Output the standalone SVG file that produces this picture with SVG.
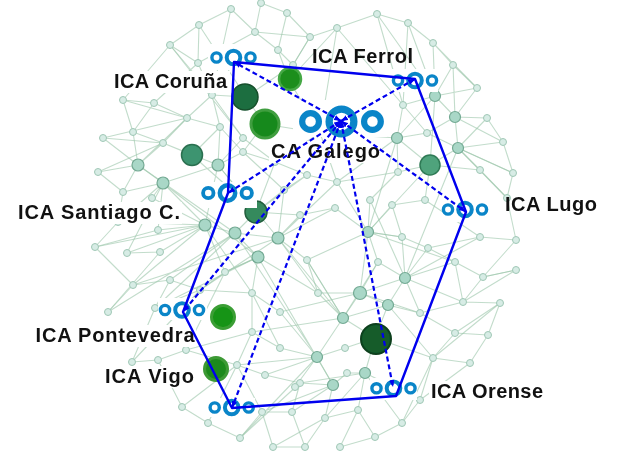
<svg xmlns="http://www.w3.org/2000/svg" xmlns:xlink="http://www.w3.org/1999/xlink" width="617" height="462" viewBox="0 0 617 462">
<style>
.e{stroke:#9cc6ab;stroke-width:1.1;opacity:.62;fill:none}
.s{fill:#d7ece5;stroke:#9fc7b5;stroke-width:1}
.m{fill:#a9d7c7;stroke:#74aa94;stroke-width:1.2}
.ring{fill:none;stroke:#0a85c8}
.bg{fill:#ffffff}
.lbl{font-family:"Liberation Sans",Arial,sans-serif;font-size:20px;font-weight:bold;fill:#111}
.solid{stroke:#0000ee;stroke-width:2.4;fill:none;stroke-linejoin:round}
.dash{stroke:#0000ee;stroke-width:2.2;stroke-dasharray:5 3;fill:none}
</style>
<defs>
<g id="nc">
<circle class="ring" cx="-17" cy="0" r="4.6" stroke-width="3.4"/>
<circle class="ring" cx="0" cy="0" r="6.8" stroke-width="4"/>
<circle class="ring" cx="17" cy="0" r="4.6" stroke-width="3.4"/>
</g>
<marker id="ah" viewBox="0 0 8 6" refX="8" refY="3" markerWidth="7" markerHeight="6" markerUnits="userSpaceOnUse" orient="auto-start-reverse">
<path d="M0 0L8 3L0 6z" fill="#0000ee"/>
</marker>
<filter id="soft" x="-5%" y="-5%" width="110%" height="110%"><feGaussianBlur stdDeviation="0.35"/></filter>
</defs>
<rect width="617" height="462" fill="#fff"/>
<g id="network" filter="url(#soft)">
<path class="e" d="M231 9L199 25M231 9L255 32M261 3L255 32M261 3L287 13M287 13L310 37M287 13L278 50M199 25L170 45M199 25L198 63M255 32L278 50M310 37L337 28M310 37L293 65M337 28L377 14M278 50L293 65M170 45L198 63M170 45L123 100M198 63L212 95M198 63L154 103M212 95L187 118M212 95L243 138M187 118L138 165M187 118L220 127M220 127L218 165M220 127L192 155M123 100L133 132M133 132L138 165M103 138L138 165M163 143L138 165M163 143L192 155M163 143L218 165M243 152L218 165M243 138L218 165M98 172L138 165M123 192L138 165M152 198L163 183M163 183L138 165M163 183L218 165M163 183L205 225M123 192L163 183M118 222L163 183M118 222L205 225M158 230L205 225M95 247L158 230M127 253L205 225M205 225L235 233M235 233L278 238M235 233L258 257M205 225L218 165M218 165L256 212M256 212L235 233M275 162L256 212M275 162L243 152M307 175L256 212M337 182L278 238M335 208L278 238M320 133L275 162M154 103L187 118M154 103L123 100M170 45L212 95M192 155L256 212M246 97L212 95M246 97L293 65M246 97L264 124M264 124L320 133M264 124L243 152M289 80L278 50M289 80L320 133M289 80L337 28M300 215L278 238M300 215L256 212M284 190L256 212M284 190L307 175M300 215L335 208"/>
<path class="e" d="M377 14L408 23M408 23L433 43M433 43L453 65M453 65L435 96M477 88L455 117M477 88L435 96M435 96L403 105M435 96L455 117M435 96L397 138M403 105L397 138M455 117L487 118M455 117L458 148M455 117L427 133M427 133L397 138M397 138L398 172M397 138L430 165M458 148L503 142M458 148L480 170M458 148L513 173M458 148L430 165M430 165L425 200M430 165L398 172M398 172L370 200M398 172L337 182M425 200L392 205M392 205L368 232M370 200L368 232M480 170L507 198M507 198L516 240M408 23L435 96M337 28L403 105M377 14L435 96M487 118L503 142M433 43L477 88M453 65L455 117M397 138L320 133M397 138L337 182M425 200L480 237M516 240L480 237"/>
<path class="e" d="M368 232L378 262M368 232L307 260M368 232L402 237M378 262L405 278M402 237L428 248M428 248L405 278M455 262L405 278M405 278L388 305M405 278L360 293M483 277L463 302M463 302L420 313M500 303L488 335M488 335L455 333M455 333L433 358M470 363L433 358M420 313L388 305M388 305L375 338M360 293L343 318M343 318L317 357M343 318L375 338M318 293L343 318M307 260L318 293M278 238L307 260M258 257L252 293M258 257L225 272M252 293L280 312M280 312L317 357M280 348L317 357M252 332L280 348M237 365L265 375M265 375L300 383M300 383L333 385M333 385L317 357M333 385L347 373M347 373L365 373M365 373L375 338M365 373L358 410M358 410L325 418M325 418L333 385M402 423L375 437M375 437L358 410M340 447L358 410M305 447L325 418M292 412L333 385M262 412L292 412M273 447L262 412M240 438L262 412M420 400L402 423M420 400L433 358M433 358L375 338M295 387L317 357M345 348L375 338M345 348L317 357M455 262L483 277M500 303L463 302M516 270L483 277M378 262L360 293M360 293L388 305M343 318L388 305M420 313L455 333M488 335L470 363M365 373L402 423M365 373L420 400M278 238L318 293M258 257L318 293M360 293L368 232M343 318L307 260"/>
<path class="e" d="M127 253L160 252M160 252L205 225M133 285L170 280M170 280L200 290M200 290L225 272M200 290L252 293M108 312L133 285M155 308L170 280M132 362L158 360M158 360L186 350M186 350L237 365M182 407L208 423M208 423L240 438M182 407L158 360M133 285L95 247M225 272L258 257M225 272L205 225M170 280L235 233M252 332L252 293M237 365L252 332M186 350L252 332M208 423L237 365M155 308L200 290M132 362L155 308M138 165L235 233M163 183L258 257M218 165L278 238M205 225L252 293M235 233L317 357M278 238L343 318M258 257L333 385M397 138L368 232M458 148L405 278M430 165L368 232M435 96L430 165"/>
<path class="e" d="M170 45L243 138M199 25L246 97M231 9L212 95M123 100L187 118M103 138L163 143M98 172L123 192M95 247L118 222M127 253L163 183M133 285L205 225M108 312L160 252M155 308L258 257M132 362L200 290M186 350L225 272M182 407L237 365M240 438L300 383M273 447L305 447M305 447L292 412M340 447L375 437M262 412L237 365M292 412L300 383M265 375L317 357M280 348L252 293M318 293L360 293M307 260L343 318M378 262L343 318M402 237L405 278M428 248L455 262M455 262L463 302M483 277L516 270M516 240L483 277M500 303L455 333M470 363L420 400M433 358L402 423M420 313L405 278M388 305L433 358M370 200L405 278M392 205L402 237M337 182L368 232M335 208L368 232M307 175L337 182M320 133L337 182M275 162L307 175M284 190L278 238M243 152L284 190M243 138L275 162M220 127L243 152M187 118L163 143M133 132L163 143M152 198L205 225M123 192L118 222M158 230L163 183M408 23L403 105M453 65L477 88M487 118L458 148M503 142L513 173M513 173L507 198M480 170L430 165M427 133L458 148M403 105L427 133M310 37L255 32M293 65L310 37M198 63L255 32M154 103L133 132M212 95L220 127"/>
<path class="e" d="M108 312L235 233M133 285L278 238M155 308L235 233M200 290L278 238M252 332L343 318M280 312L360 293M300 383L365 373M237 365L317 357M262 412L333 385M325 418L365 373M273 447L325 418M240 438L317 357M420 313L360 293M455 262L368 232M480 237L405 278M463 302L405 278M500 303L433 358M516 270L463 302M95 247L205 225M103 138L187 118M98 172L163 143M337 28L320 133M377 14L403 105M433 43L435 96M503 142L455 117M513 173L458 148M507 198L458 148M480 237L428 248M402 237L368 232"/>
<g>
<circle class="s" cx="231" cy="9" r="3.5"/><circle class="s" cx="261" cy="3" r="3.5"/><circle class="s" cx="287" cy="13" r="3.5"/><circle class="s" cx="199" cy="25" r="3.5"/><circle class="s" cx="255" cy="32" r="3.5"/><circle class="s" cx="310" cy="37" r="3.5"/><circle class="s" cx="337" cy="28" r="3.5"/><circle class="s" cx="377" cy="14" r="3.5"/><circle class="s" cx="408" cy="23" r="3.5"/><circle class="s" cx="433" cy="43" r="3.5"/><circle class="s" cx="170" cy="45" r="3.5"/><circle class="s" cx="278" cy="50" r="3.5"/><circle class="s" cx="198" cy="63" r="3.5"/><circle class="s" cx="293" cy="65" r="3.5"/><circle class="s" cx="123" cy="100" r="3.5"/><circle class="s" cx="154" cy="103" r="3.5"/><circle class="s" cx="212" cy="95" r="3.5"/><circle class="s" cx="187" cy="118" r="3.5"/><circle class="s" cx="220" cy="127" r="3.5"/><circle class="s" cx="133" cy="132" r="3.5"/><circle class="s" cx="103" cy="138" r="3.5"/><circle class="s" cx="163" cy="143" r="3.5"/><circle class="s" cx="243" cy="152" r="3.5"/><circle class="s" cx="243" cy="138" r="3.5"/><circle class="s" cx="98" cy="172" r="3.5"/><circle class="s" cx="123" cy="192" r="3.5"/><circle class="s" cx="152" cy="198" r="3.5"/><circle class="s" cx="118" cy="222" r="3.5"/><circle class="s" cx="158" cy="230" r="3.5"/><circle class="s" cx="95" cy="247" r="3.5"/><circle class="s" cx="127" cy="253" r="3.5"/><circle class="s" cx="160" cy="252" r="3.5"/><circle class="s" cx="320" cy="133" r="3.5"/><circle class="s" cx="307" cy="175" r="3.5"/><circle class="s" cx="337" cy="182" r="3.5"/><circle class="s" cx="335" cy="208" r="3.5"/><circle class="s" cx="275" cy="162" r="3.5"/><circle class="s" cx="300" cy="215" r="3.5"/><circle class="s" cx="284" cy="190" r="3.5"/>
<circle class="s" cx="453" cy="65" r="3.5"/><circle class="s" cx="477" cy="88" r="3.5"/><circle class="s" cx="403" cy="105" r="3.5"/><circle class="s" cx="487" cy="118" r="3.5"/><circle class="s" cx="427" cy="133" r="3.5"/><circle class="s" cx="503" cy="142" r="3.5"/><circle class="s" cx="480" cy="170" r="3.5"/><circle class="s" cx="513" cy="173" r="3.5"/><circle class="s" cx="398" cy="172" r="3.5"/><circle class="s" cx="425" cy="200" r="3.5"/><circle class="s" cx="392" cy="205" r="3.5"/><circle class="s" cx="370" cy="200" r="3.5"/><circle class="s" cx="507" cy="198" r="3.5"/><circle class="s" cx="516" cy="240" r="3.5"/><circle class="s" cx="516" cy="270" r="3.5"/><circle class="s" cx="480" cy="237" r="3.5"/>
<circle class="s" cx="225" cy="272" r="3.5"/><circle class="s" cx="307" cy="260" r="3.5"/><circle class="s" cx="133" cy="285" r="3.5"/><circle class="s" cx="170" cy="280" r="3.5"/><circle class="s" cx="108" cy="312" r="3.5"/><circle class="s" cx="155" cy="308" r="3.5"/><circle class="s" cx="200" cy="290" r="3.5"/><circle class="s" cx="252" cy="293" r="3.5"/><circle class="s" cx="280" cy="312" r="3.5"/><circle class="s" cx="280" cy="348" r="3.5"/><circle class="s" cx="252" cy="332" r="3.5"/><circle class="s" cx="237" cy="365" r="3.5"/><circle class="s" cx="265" cy="375" r="3.5"/><circle class="s" cx="182" cy="407" r="3.5"/><circle class="s" cx="208" cy="423" r="3.5"/><circle class="s" cx="240" cy="438" r="3.5"/><circle class="s" cx="273" cy="447" r="3.5"/><circle class="s" cx="262" cy="412" r="3.5"/><circle class="s" cx="292" cy="412" r="3.5"/><circle class="s" cx="300" cy="383" r="3.5"/><circle class="s" cx="318" cy="293" r="3.5"/><circle class="s" cx="345" cy="348" r="3.5"/><circle class="s" cx="378" cy="262" r="3.5"/><circle class="s" cx="402" cy="237" r="3.5"/><circle class="s" cx="428" cy="248" r="3.5"/><circle class="s" cx="455" cy="262" r="3.5"/><circle class="s" cx="463" cy="302" r="3.5"/><circle class="s" cx="483" cy="277" r="3.5"/><circle class="s" cx="500" cy="303" r="3.5"/><circle class="s" cx="488" cy="335" r="3.5"/><circle class="s" cx="455" cy="333" r="3.5"/><circle class="s" cx="433" cy="358" r="3.5"/><circle class="s" cx="470" cy="363" r="3.5"/><circle class="s" cx="420" cy="400" r="3.5"/><circle class="s" cx="358" cy="410" r="3.5"/><circle class="s" cx="325" cy="418" r="3.5"/><circle class="s" cx="402" cy="423" r="3.5"/><circle class="s" cx="375" cy="437" r="3.5"/><circle class="s" cx="340" cy="447" r="3.5"/><circle class="s" cx="305" cy="447" r="3.5"/><circle class="s" cx="420" cy="313" r="3.5"/><circle class="s" cx="347" cy="373" r="3.5"/><circle class="s" cx="295" cy="387" r="3.5"/><circle class="s" cx="132" cy="362" r="3.5"/><circle class="s" cx="158" cy="360" r="3.5"/><circle class="s" cx="186" cy="350" r="3.5"/>
</g>
<g>
<circle class="m" cx="138" cy="165" r="6"/><circle class="m" cx="163" cy="183" r="6"/><circle class="m" cx="218" cy="165" r="6"/><circle class="m" cx="205" cy="225" r="6"/><circle class="m" cx="235" cy="233" r="6"/><circle class="m" cx="278" cy="238" r="6"/><circle class="m" cx="258" cy="257" r="6"/><circle class="m" cx="435" cy="96" r="5.5"/><circle class="m" cx="455" cy="117" r="5.5"/><circle class="m" cx="397" cy="138" r="5.5"/><circle class="m" cx="458" cy="148" r="5.5"/><circle class="m" cx="368" cy="232" r="5.5"/><circle class="m" cx="317" cy="357" r="5.5"/><circle class="m" cx="333" cy="385" r="5.5"/><circle class="m" cx="343" cy="318" r="5.5"/><circle class="m" cx="360" cy="293" r="6.5"/><circle class="m" cx="388" cy="305" r="5.5"/><circle class="m" cx="405" cy="278" r="5.5"/><circle class="m" cx="365" cy="373" r="5.5"/>
</g>
<g>
<circle cx="290" cy="79" r="11" fill="#1c8e1c" stroke="#45a845" stroke-width="2.5"/>
<circle cx="245" cy="97" r="13" fill="#1f6e40" stroke="#134f2c" stroke-width="1.5"/>
<circle cx="265" cy="124" r="14" fill="#19891a" stroke="#3f9e3f" stroke-width="3"/>
<circle cx="192" cy="155" r="10.5" fill="#3e9470" stroke="#2a6f4f" stroke-width="1.5"/>
<circle cx="256" cy="212" r="11" fill="#368a5d" stroke="#235f3d" stroke-width="1.5"/>
<circle cx="430" cy="165" r="10" fill="#4fa37c" stroke="#2f7a55" stroke-width="1.5"/>
<circle cx="223" cy="317" r="11.5" fill="#159415" stroke="#3b9e35" stroke-width="3"/>
<circle cx="216" cy="369" r="11.5" fill="#1f8a1a" stroke="#3d9a35" stroke-width="3"/>
<circle cx="376" cy="339" r="15" fill="#125c2c" stroke="#0b3f1d" stroke-width="2"/>
</g>
</g>
<g id="node-coruna">
<rect class="bg" x="208" y="44" width="50" height="26"/>
<use xlink:href="#nc" href="#nc" transform="translate(233.5 57.5)"/>
<rect class="bg" x="112" y="71" width="118" height="22"/>
<text class="lbl" x="114" y="88" textLength="113" lengthAdjust="spacing">ICA Coruña</text>
</g>
<g id="node-ferrol">
<rect class="bg" x="392" y="69" width="46" height="23"/>
<use xlink:href="#nc" href="#nc" transform="translate(415 80.5)"/>
<text class="lbl" x="312" y="63" textLength="101" lengthAdjust="spacing">ICA Ferrol</text>
</g>
<g id="node-galego">
<rect class="bg" x="293" y="100" width="94" height="37"/>
<use xlink:href="#nc" href="#nc" transform="translate(341.5 121.5) scale(1.82)"/>
<rect class="bg" x="269" y="141" width="113" height="22"/>
<text class="lbl" x="271" y="158" textLength="109" lengthAdjust="spacing">CA Galego</text>
</g>
<g id="node-santiago">
<rect class="bg" x="200" y="182" width="57" height="26"/>
<use xlink:href="#nc" href="#nc" transform="translate(227.5 193) scale(1.13)"/>
<rect class="bg" x="16" y="202" width="166" height="22"/>
<text class="lbl" x="18" y="219" textLength="162" lengthAdjust="spacing">ICA Santiago C.</text>
</g>
<g id="node-lugo">
<rect class="bg" x="442" y="197" width="45" height="25"/>
<use xlink:href="#nc" href="#nc" transform="translate(465 209.5)"/>
<text class="lbl" x="505" y="211" textLength="92" lengthAdjust="spacing">ICA Lugo</text>
</g>
<g id="node-pontevedra">
<rect class="bg" x="158" y="298" width="49" height="22"/>
<use xlink:href="#nc" href="#nc" transform="translate(182 310)"/>
<rect class="bg" x="33" y="325" width="163" height="22"/>
<text class="lbl" x="35.5" y="342" textLength="159" lengthAdjust="spacing">ICA Pontevedra</text>
</g>
<g id="node-vigo">
<rect class="bg" x="208" y="398" width="47" height="19"/>
<use xlink:href="#nc" href="#nc" transform="translate(231.7 407.5)"/>
<rect class="bg" x="103" y="366" width="93" height="22"/>
<text class="lbl" x="105" y="383" textLength="89" lengthAdjust="spacing">ICA Vigo</text>
</g>
<g id="node-orense">
<rect class="bg" x="370" y="378" width="47" height="22"/>
<use xlink:href="#nc" href="#nc" transform="translate(393.5 388.3)"/>
<rect class="bg" x="429" y="381" width="116" height="22"/>
<text class="lbl" x="431" y="398" textLength="112" lengthAdjust="spacing">ICA Orense</text>
</g>
<g id="connectors">
<polygon class="solid" points="234,62 415,79 466,212 396,396 232,408 183,312 228,193"/>
<line class="dash" x1="341" y1="121" x2="234" y2="62" marker-start="url(#ah)" marker-end="url(#ah)"/>
<line class="dash" x1="341" y1="121" x2="415" y2="79" marker-start="url(#ah)" marker-end="url(#ah)"/>
<line class="dash" x1="341" y1="121" x2="466" y2="212" marker-start="url(#ah)" marker-end="url(#ah)"/>
<line class="dash" x1="341" y1="121" x2="393" y2="387" marker-start="url(#ah)" marker-end="url(#ah)"/>
<line class="dash" x1="341" y1="121" x2="232" y2="408" marker-start="url(#ah)" marker-end="url(#ah)"/>
<line class="dash" x1="341" y1="121" x2="183" y2="312" marker-start="url(#ah)" marker-end="url(#ah)"/>
<line class="dash" x1="341" y1="121" x2="228" y2="193" marker-start="url(#ah)" marker-end="url(#ah)"/>
</g>
</svg>
